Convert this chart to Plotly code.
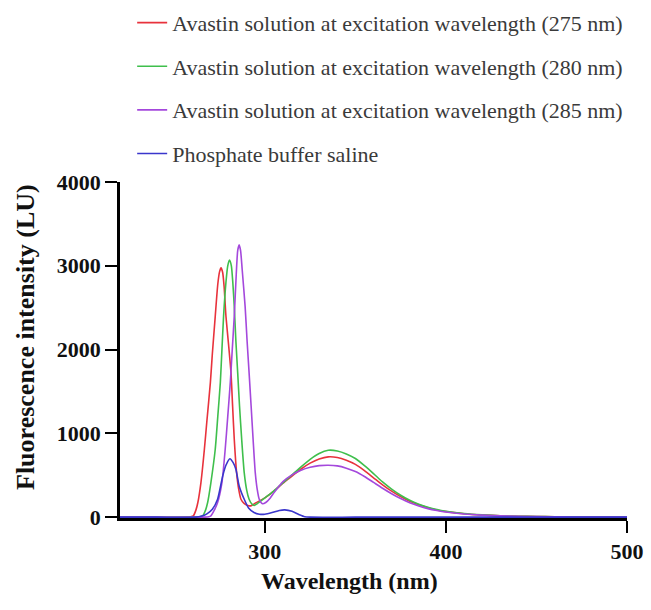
import plotly.graph_objects as go

# ---- data ----
names = [
    "Avastin solution at excitation wavelength (275 nm)",
    "Avastin solution at excitation wavelength (280 nm)",
    "Avastin solution at excitation wavelength (285 nm)",
    "Phosphate buffer saline",
]
colors = ["#e8323c", "#3fbf4c", "#a448dc", "#3a36cc"]

x_275 = [220, 240, 257, 259, 260.5, 262, 263, 264.7, 266.6, 268, 269.9, 271, 272.6, 274, 275, 275.8,
         276.7, 277.5, 278.5, 280, 281.3, 282.2, 283.1, 284.4, 285.5, 286.8, 288.5, 290.5, 292.3, 295,
         300, 305, 310, 315, 320, 325, 330, 335, 340, 345, 350, 355, 360, 365, 370, 375, 380, 385, 390,
         395, 400, 410, 420, 430, 440, 450, 460, 470, 480, 490, 500]
y_275 = [0, 0, 0, 5, 16, 90, 175, 413, 810, 1150, 1603, 1950, 2397, 2780, 2930, 2975,
         2920, 2750, 2400, 2050, 1720, 1320, 930, 530, 340, 214, 165, 140, 135, 170,
         230, 310, 405, 490, 575, 645, 695, 720, 712, 680, 630, 555, 470, 385, 310, 245, 190, 148, 113,
         86, 66, 41, 26, 17, 11, 7, 5, 3, 2, 1, 0]

x_280 = [220, 240, 262, 264, 265.7, 267, 268.4, 270.2, 272.6, 274, 275.4, 276.3, 277.2, 278.5, 279.5, 280.5,
         281.5, 282.3, 283.1, 284, 285, 286, 287.2, 288.6, 290, 291.3, 292.7, 294.1, 296,
         300, 305, 310, 315, 320, 325, 330, 335, 340, 345, 350, 355, 360, 365, 370, 375, 380, 385, 390,
         395, 400, 410, 420, 430, 440, 450, 460, 470, 480, 490, 500]
y_280 = [0, 0, 0, 5, 16, 70, 175, 413, 810, 1200, 1603, 2000, 2397, 2800, 3000, 3070,
         3000, 2800, 2516, 2100, 1722, 1330, 929, 532, 320, 214, 160, 140, 165,
         230, 315, 410, 505, 600, 690, 760, 798, 790, 755, 700, 615, 520, 420, 335, 262, 202, 155, 118,
         90, 70, 43, 27, 17, 11, 7, 5, 3, 2, 1, 0]

x_285 = [220, 240, 267, 269, 270.2, 272, 273.9, 276.3, 278.1, 279.5, 280.9, 282, 283.1, 284.2, 285, 285.8,
         286.6, 287.5, 289.1, 290.2, 291.3, 292.4, 293.5, 294.7, 295.8, 296.9, 298.7, 300.5, 303,
         305, 307.5, 310, 315, 320, 325, 330, 335, 340, 345, 350, 355, 360, 365, 370, 375, 380, 385, 390,
         395, 400, 410, 420, 430, 440, 450, 460, 470, 480, 490, 500]
y_285 = [0, 0, 0, 5, 16, 80, 175, 413, 810, 1200, 1603, 2000, 2397, 2900, 3180, 3250,
         3180, 2950, 2516, 2100, 1722, 1330, 929, 532, 330, 214, 160, 175, 230,
         290, 360, 425, 505, 560, 595, 615, 620, 612, 585, 545, 485, 415, 345, 280, 222, 172, 133, 102,
         79, 61, 38, 24, 15, 10, 6, 4, 2, 1, 1, 0]

x_pbs = [220, 240, 262, 264.7, 268, 271, 273.9, 276.7, 278.5, 280.7, 282.5, 284, 285.8, 288.6,
         291, 294, 297, 300, 304, 308, 311, 315, 319, 322, 325, 350, 400, 450, 500]
y_pbs = [0, 0, 0, 10, 40, 95, 214, 490, 620, 698, 650, 571, 373, 214,
         110, 55, 35, 35, 55, 80, 87, 70, 30, 5, 0, 0, 0, 0, 0]

x_data = [x_275, x_280, x_285, x_pbs]
y_data = [y_275, y_280, y_285, y_pbs]

x_ticks = [300, 400, 500]
y_ticks = [0, 1000, 2000, 3000, 4000]

serif = "Liberation Serif"

fig = go.Figure()
for i, (n, c, xs, ys) in enumerate(zip(names, colors, x_data, y_data)):
    fig.add_trace(go.Scatter(
        x=xs, y=ys, mode="lines", name=n, legendgroup=str(i),
        line=dict(color=c, width=1.6, shape="spline", smoothing=0.6),
    ))

fig.update_layout(
    width=651, height=610,
    margin=dict(l=120, r=24, t=182, b=92, autoexpand=False),
    plot_bgcolor="white", paper_bgcolor="white",
    font=dict(family=serif),
    showlegend=True,
    legend=dict(
        x=0.024, y=0.997, xanchor="left", yanchor="top", yref="container",
        font=dict(family=serif, size=22, color="#3a3a3a"),
        tracegroupgap=12, bgcolor="rgba(0,0,0,0)",
        traceorder="grouped",
    ),
    xaxis=dict(
        range=[220, 500], tickvals=x_ticks, ticks="outside", ticklen=12, tickwidth=2,
        tickcolor="black", showline=True, linecolor="black", linewidth=2.5,
        showgrid=False, zeroline=False, layer="below traces",
        tickfont=dict(family=serif, size=22, color="#111", weight="bold"),
    ),
    yaxis=dict(
        range=[-10, 4000], tickvals=y_ticks, ticks="outside", ticklen=12, tickwidth=2,
        tickcolor="black", showline=True, linecolor="black", linewidth=2.5,
        showgrid=False, zeroline=False, layer="below traces",
        tickfont=dict(family=serif, size=22, color="#111", weight="bold"),
    ),
    annotations=[
        dict(text="Wavelength (nm)", xref="paper", yref="paper", x=0.4536, y=-0.1875,
             xanchor="center", yanchor="middle", showarrow=False,
             font=dict(family=serif, size=24, color="#111", weight="bold")),
        dict(text="Fluorescence intensity (LU)", xref="paper", yref="paper", x=-0.1854, y=0.5387,
             xanchor="center", yanchor="middle", showarrow=False, textangle=-90,
             font=dict(family=serif, size=26, color="#111", weight="bold")),
    ],
)

fig.write_html("out.html")
